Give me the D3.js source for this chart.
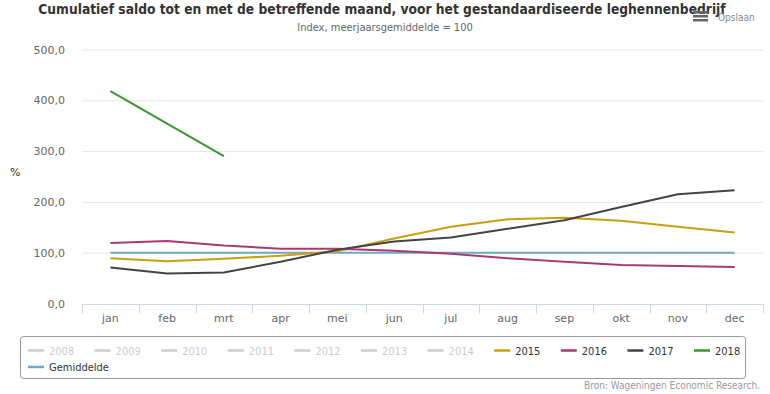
<!DOCTYPE html>
<html lang="nl">
  <head>
    <script src="https://d3js.org/d3.v7.min.js"></script>
    <style>
      body { margin: 0; background: #fff; }
      .cond { font-family: "DejaVu Sans Condensed", "DejaVu Sans", sans-serif; font-stretch: condensed; }
      .axis text { font-family: "DejaVu Sans", Verdana, sans-serif; font-size: 11px; fill: #666; }
    </style>
  </head>
  <body>
    <svg width="770" height="394"></svg>
    <script>
      var months = ["jan", "feb", "mrt", "apr", "mei", "jun", "jul", "aug", "sep", "okt", "nov", "dec"];
      var yTicks = [0, 100, 200, 300, 400, 500];
      var hiddenYears = ["2008", "2009", "2010", "2011", "2012", "2013", "2014"];

      var v2015 = [89, 83, 88, 94, 103, 128, 151, 166, 169, 163, 151, 140];
      var v2016 = [119, 123, 114, 108, 108, 104, 98, 89, 82, 76, 74, 72];
      var v2017 = [71, 59, 61, 82, 106, 122, 130, 147, 164, 190, 215, 223];
      var v2018 = [418, 354, 290];
      var gemiddelde = [100, 100, 100, 100, 100, 100, 100, 100, 100, 100, 100, 100];

      var series = [
        { name: "2015", color: "#c9a010", values: v2015 },
        { name: "2016", color: "#a83a73", values: v2016 },
        { name: "2017", color: "#434348", values: v2017 },
        { name: "2018", color: "#3a9632", values: v2018 },
        { name: "Gemiddelde", color: "#6fa8c8", values: gemiddelde }
      ];

      var svg = d3.select("svg");
      var plotLeft = 82, plotRight = 763, plotTop = 49.5, plotBottom = 303.5;

      var x = d3.scaleBand().domain(months).range([plotLeft, plotRight]);
      var y = d3.scaleLinear().domain([0, 500]).range([plotBottom, plotTop]);

      //title + subtitle
      svg.append("text").attr("class", "cond")
        .attr("x", 382).attr("y", 14)
        .attr("text-anchor", "middle")
        .attr("font-size", "13.7px").attr("font-weight", "bold").attr("fill", "#333")
        .text("Cumulatief saldo tot en met de betreffende maand, voor het gestandaardiseerde leghennenbedrijf");
      svg.append("text").attr("class", "cond")
        .attr("x", 385).attr("y", 31)
        .attr("text-anchor", "middle")
        .attr("font-size", "11px").attr("fill", "#666")
        .text("Index, meerjaarsgemiddelde = 100");

      //export button
      var btn = svg.append("g").attr("transform", "translate(693,11)");
      [0, 4, 8].forEach(function (d) {
        btn.append("rect").attr("x", 0).attr("y", d).attr("width", 15).attr("height", 2.5).attr("fill", "#666");
      });
      svg.append("text").attr("class", "cond")
        .attr("x", 718).attr("y", 21)
        .attr("font-size", "10px").attr("fill", "#888")
        .text("Opslaan");

      //grid lines
      svg.append("g").selectAll("line")
        .data(yTicks.slice(1))
        .enter().append("line")
        .attr("x1", plotLeft).attr("x2", plotRight)
        .attr("y1", function (d) { return y(d) + 0.5; })
        .attr("y2", function (d) { return y(d) + 0.5; })
        .attr("stroke", "#e6e6e6");

      //y axis
      var yAxis = svg.append("g").attr("class", "axis")
        .attr("transform", "translate(" + (plotLeft - 14) + ",0)")
        .call(d3.axisLeft(y).tickValues(yTicks).tickSize(0).tickFormat(function (d) { return d3.format(".1f")(d).replace(".", ","); }));
      yAxis.select(".domain").remove();

      svg.append("text").attr("x", 10).attr("y", 176)
        .attr("font-family", "DejaVu Sans, sans-serif").attr("font-size", "11px").attr("fill", "#333")
        .text("%");

      //x axis
      var xAxis = svg.append("g").attr("class", "axis")
        .attr("transform", "translate(0," + (plotBottom + 0.5) + ")")
        .call(d3.axisBottom(x).tickSize(0).tickPadding(10));
      xAxis.select(".domain").attr("stroke", "#ccd6eb");
      svg.append("g").selectAll("line")
        .data(months.concat(["end"]))
        .enter().append("line")
        .attr("x1", function (d, i) { return Math.round(plotLeft + i * x.bandwidth()) + 0.5; })
        .attr("x2", function (d, i) { return Math.round(plotLeft + i * x.bandwidth()) + 0.5; })
        .attr("y1", plotBottom).attr("y2", plotBottom + 10)
        .attr("stroke", "#ccd6eb");

      //lines
      var line = d3.line()
        .x(function (d, i) { return x(months[i]) + x.bandwidth() / 2; })
        .y(function (d) { return y(d); });

      var drawOrder = [series[4], series[0], series[1], series[2], series[3]];
      svg.append("g").selectAll("path")
        .data(drawOrder)
        .enter().append("path")
        .attr("fill", "none")
        .attr("stroke", function (d) { return d.color; })
        .attr("stroke-width", 2)
        .attr("stroke-linejoin", "round")
        .attr("d", function (d) { return line(d.values); });

      //legend
      svg.append("rect")
        .attr("x", 20.5).attr("y", 336.5).attr("width", 725).attr("height", 42)
        .attr("rx", 3).attr("fill", "#fff").attr("stroke", "#999");

      var legendItems = hiddenYears.map(function (d) { return { name: d, color: "#ccc", text: "#ccc" }; })
        .concat(series.map(function (d) { return { name: d.name, color: d.color, text: "#333" }; }));

      var lg = svg.append("g").selectAll("g")
        .data(legendItems)
        .enter().append("g")
        .attr("transform", function (d, i) {
          var row = i < 11 ? 0 : 1;
          var col = i < 11 ? i : i - 11;
          return "translate(" + (28 + col * 66.6) + "," + (350.5 + row * 16.5) + ")";
        });
      lg.append("line")
        .attr("x1", 0).attr("x2", 16).attr("y1", 0).attr("y2", 0)
        .attr("stroke", function (d) { return d.color; })
        .attr("stroke-width", 2.5);
      lg.append("text").attr("class", "cond")
        .attr("x", 21).attr("y", 4)
        .attr("font-size", "11px").attr("fill", function (d) { return d.text; })
        .text(function (d) { return d.name; });

      //credits
      svg.append("text").attr("class", "cond")
        .attr("x", 760).attr("y", 389)
        .attr("text-anchor", "end")
        .attr("font-size", "10px").attr("fill", "#999")
        .text("Bron: Wageningen Economic Research.");
    </script>
  </body>
</html>
